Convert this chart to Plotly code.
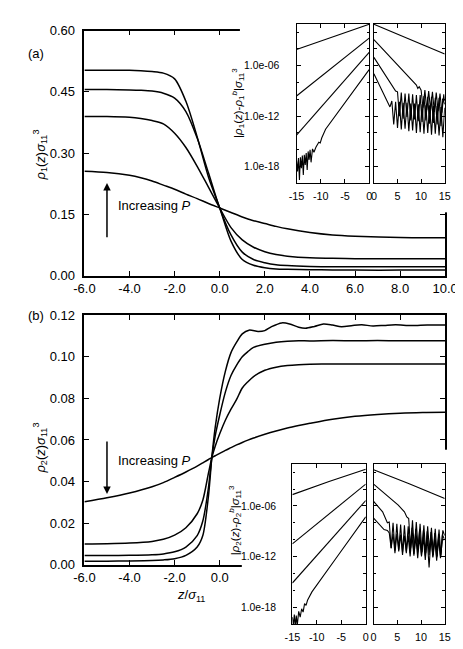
import plotly.graph_objects as go

W, H = 463, 649
FONT = "Liberation Sans, Arial, sans-serif"

# ---------------- panel (a): rho_1(z) profiles ----------------
z_a = [-6, -5, -4, -3.5, -3, -2.5, -2, -1.5, -1, -0.5, 0, 0.5, 1, 1.5, 2, 2.5, 3, 4, 5, 6, 8, 10]
rho1_p1 = [0.256, 0.253, 0.246, 0.240, 0.232, 0.222, 0.212, 0.200, 0.189, 0.177, 0.166,
           0.155, 0.144, 0.135, 0.128, 0.121, 0.115, 0.106, 0.100, 0.097, 0.094, 0.093]
rho1_p2 = [0.390, 0.390, 0.388, 0.385, 0.380, 0.372, 0.349, 0.314, 0.268, 0.217, 0.166,
           0.118, 0.088, 0.070, 0.059, 0.052, 0.048, 0.044, 0.043, 0.042, 0.042, 0.042]
rho1_p3 = [0.456, 0.456, 0.455, 0.454, 0.452, 0.447, 0.435, 0.402, 0.337, 0.252, 0.166,
           0.100, 0.058, 0.040, 0.032, 0.027, 0.025, 0.023, 0.022, 0.022, 0.022, 0.022]
rho1_p4 = [0.503, 0.503, 0.503, 0.502, 0.500, 0.496, 0.482, 0.427, 0.340, 0.242, 0.166,
           0.085, 0.040, 0.026, 0.020, 0.017, 0.016, 0.015, 0.0145, 0.014, 0.014, 0.014]

# ---------------- panel (b): rho_2(z) profiles ----------------
z_b = [-6, -5, -4, -3, -2.5, -2, -1.5, -1, -0.75, -0.5, -0.35, -0.2, 0, 0.25, 0.5,
       0.75, 1, 1.25, 1.5, 2, 2.5, 3, 3.5, 4, 5, 6, 7, 8, 9, 10]
rho2_p1 = [0.0303, 0.0322, 0.0345, 0.0375, 0.0395, 0.0420, 0.0446, 0.0474, 0.0490, 0.0506,
           0.0515, 0.0524, 0.0535, 0.0550, 0.0563, 0.0576, 0.0588, 0.0599, 0.0609, 0.0627,
           0.0643, 0.0657, 0.0669, 0.0680, 0.0700, 0.0714, 0.0723, 0.0729, 0.0732, 0.0733]
rho2_p2 = [0.0100, 0.0101, 0.0104, 0.0112, 0.0122, 0.0142, 0.0178, 0.0245, 0.0310, 0.0440,
           0.0515, 0.0570, 0.0630, 0.0695, 0.0748, 0.0795, 0.0850, 0.0880, 0.0905, 0.0935,
           0.0950, 0.0958, 0.0962, 0.0964, 0.0965, 0.0965, 0.0965, 0.0965, 0.0965, 0.0965]
rho2_p3 = [0.0044, 0.0044, 0.0045, 0.0048, 0.0052, 0.0062, 0.0085, 0.0140, 0.0210, 0.0370,
           0.0515, 0.0620, 0.0720, 0.0830, 0.0910, 0.0960, 0.1000, 0.1025, 0.1045, 0.1060,
           0.1070, 0.1075, 0.1077, 0.1076, 0.1078, 0.1077, 0.1078, 0.1077, 0.1077, 0.1077]
z_b4 = [-6, -5, -4, -3, -2.5, -2, -1.5, -1, -0.75, -0.5, -0.35, -0.2, 0, 0.25, 0.5, 0.75,
        1.0, 1.3, 1.7, 2.0, 2.3, 2.75, 3.1, 3.5, 3.8, 4.2, 4.6, 5.0, 5.4, 5.9, 6.3, 6.8,
        7.3, 7.8, 8.5, 9.2, 10]
rho2_p4 = [0.0017, 0.0017, 0.0018, 0.0020, 0.0023, 0.0029, 0.0045, 0.0085, 0.0140, 0.0330,
           0.0515, 0.0660, 0.0800, 0.0930, 0.1020, 0.1070, 0.1110, 0.1128, 0.1122, 0.1126,
           0.1145, 0.1163, 0.1158, 0.1142, 0.1137, 0.1146, 0.1158, 0.1153, 0.1145, 0.1151,
           0.1154, 0.1148, 0.1151, 0.1154, 0.1150, 0.1153, 0.1153]

# ---------------- insets: log10 |rho(z) - rho^b| ----------------
# inset (a), liquid side (z < 0)
la_x1 = [-15, 0];  la_e1 = [-4.05, -1.05]
la_x2 = [-15, 0];  la_e2 = [-9.6, -2.7]
la_x3 = [-15, 0];  la_e3 = [-14.25, -4.4]
la_x4 = [-15, -14.8, -14.6, -14.4, -14.2, -14.0, -13.8, -13.6, -13.4, -13.2, -13.0, -12.8,
         -12.6, -12.4, -12.2, -12.0, -11.7, -11.4, -11.0, -10.7, -10.4, -10.1, -9.8, -9, -6, -3, 0]
la_e4 = [-17.3, -18.6, -17.0, -19.6, -16.9, -18.2, -16.7, -19.0, -16.6, -17.8, -16.4, -18.4,
         -16.2, -17.2, -16.0, -17.5, -15.9, -16.3, -15.7, -15.3, -15.1, -15.2, -14.6, -13.55,
         -11.2, -8.8, -6.45]
# inset (a), vapour side (z > 0)
ra_x1 = [0, 15];  ra_e1 = [-1.05, -4.6]
ra_x2 = [0, 3, 6, 8, 9.0, 9.3, 9.6, 10.0, 10.4, 10.8, 11.2, 11.6, 12.0, 12.4, 12.8, 13.2,
         13.6, 14.0, 14.4, 14.8, 15.0]
ra_e2 = [-2.9, -4.7, -6.45, -7.7, -8.3, -8.7, -8.5, -8.9, -11.0, -8.9, -11.3, -9.0, -11.2,
         -9.1, -11.5, -9.2, -11.4, -9.3, -11.6, -9.4, -10.2]
ra_x3 = [0, 2, 4, 4.6, 5.0, 5.4, 5.8, 6.2, 6.6, 7.0, 7.4, 7.8, 8.2, 8.6, 9.0, 9.4, 9.8,
         10.2, 10.6, 11.0, 11.4, 11.8, 12.2, 12.6, 13.0, 13.4, 13.8, 14.2, 14.6, 15.0]
ra_e3 = [-5.0, -6.8, -8.6, -9.0, -9.1, -12.0, -9.2, -12.3, -9.3, -12.1, -9.3, -12.5, -9.4,
         -12.4, -9.5, -12.6, -9.5, -12.7, -9.6, -12.5, -9.7, -12.9, -9.7, -12.8, -9.8, -13.0,
         -9.8, -13.2, -9.9, -10.6]
ra_x4 = [0, 1.5, 3.0, 3.4, 3.8, 4.2, 4.6, 5.0, 5.4, 5.8, 6.2, 6.6, 7.0, 7.4, 7.8, 8.2, 8.6,
         9.0, 9.4, 9.8, 10.2, 10.6, 11.0, 11.4, 11.8, 12.2, 12.6, 13.0, 13.4, 13.8, 14.2,
         14.6, 15.0]
ra_e4 = [-6.95, -8.7, -10.5, -10.9, -10.2, -13.0, -10.3, -13.4, -10.3, -13.6, -10.4, -13.5,
         -10.4, -13.8, -10.5, -13.7, -10.5, -14.0, -10.6, -13.9, -10.6, -14.1, -10.7, -14.0,
         -10.7, -14.2, -10.8, -14.1, -10.8, -14.3, -10.9, -14.5, -11.0]

# inset (b), liquid side
lb_x1 = [-15, -7.5, 0];  lb_e1 = [-4.65, -3.1, -1.65]
lb_x2 = [-15, 0];  lb_e2 = [-10.5, -3.4]
lb_x3 = [-15, 0];  lb_e3 = [-15.15, -5.35]
lb_x4 = [-15, -14.8, -14.6, -14.4, -14.2, -14.0, -13.7, -13.4, -13.1, -12.8, -12.5, -12.2,
         -11.9, -11.6, -11.0, -6, 0]
lb_e4 = [-19.2, -20.2, -18.9, -20.3, -19.0, -20.2, -18.5, -19.2, -18.2, -18.6, -17.6, -17.8,
         -17.2, -16.9, -16.2, -12.15, -7.3]
# inset (b), vapour side
rb_x1 = [0, 7.5, 15];  rb_e1 = [-1.7, -3.35, -5.1]
rb_x2 = [0, 2.5, 5.2, 6.5, 7.0, 7.4, 7.8, 8.2, 8.6, 9.0, 9.4, 9.8, 10.2, 10.6, 11.0, 11.4,
         11.8, 12.2, 12.6, 13.0, 13.4, 13.8, 14.2, 14.6, 15.0]
rb_e2 = [-3.4, -4.6, -5.9, -6.7, -7.3, -7.5, -11.0, -7.7, -11.3, -7.9, -11.2, -8.1, -11.5,
         -8.3, -11.6, -8.4, -11.4, -8.6, -11.8, -8.7, -12.0, -8.8, -11.9, -8.9, -9.5]
rb_x3 = [0, 1.9, 2.9, 3.3, 3.7, 4.1, 4.5, 4.9, 5.3, 5.7, 6.1, 6.5, 6.9, 7.3, 7.7, 8.1, 8.5,
         8.9, 9.3, 9.7, 10.1, 10.5, 10.9, 11.3, 11.7, 12.1, 12.5, 12.9, 13.3, 13.7, 14.1,
         14.5, 14.9]
rb_e3 = [-5.45, -6.7, -8.0, -7.9, -11.0, -8.0, -11.3, -8.1, -11.2, -8.2, -11.5, -8.3, -11.4,
         -8.4, -11.6, -8.6, -11.7, -8.7, -11.5, -8.8, -11.8, -8.9, -11.9, -9.0, -11.8, -9.1,
         -12.0, -9.2, -12.1, -9.3, -11.9, -9.4, -9.9]
rb_x4 = [0, 1.5, 2.2, 2.9, 3.3, 3.7, 4.1, 4.5, 4.9, 5.3, 5.7, 6.1, 6.5, 6.9, 7.3, 7.7, 8.1,
         8.5, 8.9, 9.3, 9.7, 10.1, 10.5, 10.9, 11.3, 11.7, 12.1, 12.5, 12.9, 13.3, 13.7,
         14.1, 14.5, 14.9]
rb_e4 = [-7.45, -8.4, -8.8, -8.9, -9.2, -11.0, -9.3, -11.6, -9.3, -11.4, -9.4, -11.8, -9.5,
         -11.6, -9.5, -12.0, -9.6, -11.9, -9.6, -12.2, -9.7, -12.0, -9.7, -12.4, -9.8, -13.3,
         -9.8, -12.1, -9.9, -12.5, -9.9, -12.2, -10.0, -10.0]

# tick labels
main_x_ticks = [-6, -4, -2, 0, 2, 4, 6, 8, 10]
main_x_text = ["-6.0", "-4.0", "-2.0", "0.0", "2.0", "4.0", "6.0", "8.0", "10.0"]
a_y_ticks = [0, 0.15, 0.30, 0.45, 0.60]
a_y_text = ["0.00", "0.15", "0.30", "0.45", "0.60"]
b_y_ticks = [0, 0.02, 0.04, 0.06, 0.08, 0.10, 0.12]
b_y_text = ["0.00", "0.02", "0.04", "0.06", "0.08", "0.10", "0.12"]
ins_y_ticks = [1e-18, 1e-12, 1e-6]
ins_y_text = ["1.0e-18", "1.0e-12", "1.0e-06"]
ins_y_minor = [1e-16, 1e-14, 1e-10, 1e-8, 1e-4, 1e-2]
insL_x_ticks = [-15, -10, -5, 0]
insL_x_text = ["-15", "-10", "-5", "0"]
insR_x_ticks = [0, 5, 10, 15]
insR_x_text = ["0", "5", "10", "15"]


def dx(a, b):
    return [a / W, b / W]


def dy(top, bottom):
    return [1 - bottom / H, 1 - top / H]


fig = go.Figure()

main_line = dict(color="black", width=1.5, shape="spline", smoothing=0.8)
ins_line = dict(color="black", width=1.1)


def add_main(x, y, sub):
    fig.add_trace(go.Scatter(x=x, y=y, mode="lines", line=main_line,
                             xaxis="x" + sub, yaxis="y" + sub, showlegend=False,
                             hoverinfo="skip"))


def add_ins(x, e, sub):
    fig.add_trace(go.Scatter(x=x, y=[10 ** v for v in e], mode="lines", line=ins_line,
                             xaxis="x" + sub, yaxis="y" + sub, showlegend=False,
                             hoverinfo="skip"))


for ys in (rho1_p1, rho1_p2, rho1_p3, rho1_p4):
    add_main(z_a, ys, "")
# blank covering subplots (white background hides the main frame behind the insets)
fig.add_trace(go.Scatter(x=[], y=[], xaxis="x2", yaxis="y2", showlegend=False))
for xs, es in ((la_x1, la_e1), (la_x2, la_e2), (la_x3, la_e3), (la_x4, la_e4)):
    add_ins(xs, es, "3")
for xs, es in ((ra_x1, ra_e1), (ra_x2, ra_e2), (ra_x3, ra_e3), (ra_x4, ra_e4)):
    add_ins(xs, es, "4")
for ys in (rho2_p1, rho2_p2, rho2_p3):
    add_main(z_b, ys, "5")
add_main(z_b4, rho2_p4, "5")
fig.add_trace(go.Scatter(x=[], y=[], xaxis="x6", yaxis="y6", showlegend=False))
for xs, es in ((lb_x1, lb_e1), (lb_x2, lb_e2), (lb_x3, lb_e3), (lb_x4, lb_e4)):
    add_ins(xs, es, "7")
for xs, es in ((rb_x1, rb_e1), (rb_x2, rb_e2), (rb_x3, rb_e3), (rb_x4, rb_e4)):
    add_ins(xs, es, "8")

main_ax = dict(showline=True, linecolor="black", linewidth=1.5, mirror="ticks",
               ticks="inside", ticklen=5, tickwidth=1.2, tickcolor="black",
               showgrid=False, zeroline=False,
               tickfont=dict(family=FONT, size=13, color="black"))
ins_ax = dict(showline=True, linecolor="black", linewidth=1.3, mirror="ticks",
              ticks="inside", ticklen=4, tickwidth=1, tickcolor="black",
              showgrid=False, zeroline=False, ticklabelstandoff=3,
              tickfont=dict(family=FONT, size=10.8, color="black"))
blank_ax = dict(visible=False, showgrid=False, zeroline=False, range=[0, 1], fixedrange=True)


def ins_y(show, anchor, dom, standoff):
    return dict(ins_ax, type="log", range=[-20, -1], tickvals=ins_y_ticks,
                ticktext=ins_y_text, showticklabels=show, anchor=anchor, domain=dom,
                ticklabelstandoff=standoff,
                minor=dict(tickvals=ins_y_minor, ticks="inside", ticklen=2.5,
                           tickcolor="black", tickwidth=1),
                tickfont=dict(family=FONT, size=10.4, color="black"))


a_dom_y = dy(16, 267)
b_dom_y = dy(307.3, 562.7)
ia_dom_y = dy(9, 172.3)
ib_dom_y = dy(459.5, 623.3)

fig.update_layout(
    width=W, height=H, margin=dict(l=0, r=0, t=0, b=0),
    paper_bgcolor="white", plot_bgcolor="white",
    font=dict(family=FONT, size=13, color="black"),
    xaxis=dict(main_ax, domain=dx(69, 449.5), range=[-6, 10], tickvals=main_x_ticks,
               ticktext=main_x_text, anchor="y"),
    yaxis=dict(main_ax, domain=a_dom_y, range=[0, 0.6], tickvals=a_y_ticks,
               ticktext=a_y_text, anchor="x", ticklabelstandoff=5),
    xaxis2=dict(blank_ax, domain=dx(233, 463), anchor="y2"),
    yaxis2=dict(blank_ax, domain=dy(0, 202), anchor="x2"),
    xaxis3=dict(ins_ax, domain=dx(292.7, 369.3), range=[-15, 0], tickvals=insL_x_ticks,
                ticktext=insL_x_text, anchor="y3"),
    yaxis3=ins_y(True, "x3", ia_dom_y, 14),
    xaxis4=dict(ins_ax, domain=dx(374.3, 449), range=[0, 15], tickvals=insR_x_ticks,
                ticktext=insR_x_text, anchor="y4"),
    yaxis4=ins_y(False, "x4", ia_dom_y, 14),
    xaxis5=dict(main_ax, domain=dx(69, 449.5), range=[-6, 10], tickvals=main_x_ticks,
                ticktext=main_x_text, anchor="y5"),
    yaxis5=dict(main_ax, domain=b_dom_y, range=[0, 0.12], tickvals=b_y_ticks,
                ticktext=b_y_text, anchor="x5", ticklabelstandoff=5),
    xaxis6=dict(blank_ax, domain=dx(235, 463), anchor="y6"),
    yaxis6=dict(blank_ax, domain=dy(445, 649), anchor="x6"),
    xaxis7=dict(ins_ax, domain=dx(288.3, 365.7), range=[-15, 0], tickvals=insL_x_ticks,
                ticktext=insL_x_text, anchor="y7"),
    yaxis7=ins_y(True, "x7", ib_dom_y, 13),
    xaxis8=dict(ins_ax, domain=dx(374, 449), range=[0, 15], tickvals=insR_x_ticks,
                ticktext=insR_x_text, anchor="y8"),
    yaxis8=ins_y(False, "x8", ib_dom_y, 13),
)

rho1_lab = "<i>ρ</i><sub>1</sub>(<i>z</i>)<i>σ</i><sub>11</sub><sup>3</sup>"
rho2_lab = "<i>ρ</i><sub>2</sub>(<i>z</i>)<i>σ</i><sub>11</sub><sup>3</sup>"
ins1_lab = ("|<i>ρ</i><sub>1</sub>(<i>z</i>)-<i>ρ</i><sub>1</sub><sup><i>b</i></sup>|"
            "<i>σ</i><sub>11</sub><sup>3</sup>")
ins2_lab = ("|<i>ρ</i><sub>2</sub>(<i>z</i>)-<i>ρ</i><sub>2</sub><sup><i>b</i></sup>|"
            "<i>σ</i><sub>11</sub><sup>3</sup>")


def ann_px(text, px, py, size=13, angle=0, xanchor="center"):
    fig.add_annotation(text=text, x=px / W, y=1 - py / H, xref="paper", yref="paper",
                       showarrow=False, textangle=angle, xanchor=xanchor, yanchor="middle",
                       font=dict(family=FONT, size=size, color="black"))


ann_px("(a)", 18, 39)
ann_px("(b)", 18, 307.5)
ann_px(rho1_lab, 22, 143, angle=-90)
ann_px(rho2_lab, 22, 443, angle=-90)
ann_px("<i>z</i>/<i>σ</i><sub>11</sub>", 181, 594)
ann_px(ins1_lab, 231, 90, size=11.5, angle=-90)
ann_px(ins2_lab, 228, 517, size=11.5, angle=-90)

# "Increasing P" arrows and text (data coordinates)
fig.add_annotation(x=-5, y=0.227, ax=-5, ay=0.091, xref="x", yref="y", axref="x", ayref="y",
                   text="", showarrow=True, arrowhead=2, arrowsize=1, arrowwidth=1.5,
                   arrowcolor="black")
fig.add_annotation(x=-4.62, y=0.172, xref="x", yref="y", text="Increasing <i>P</i>",
                   showarrow=False, xanchor="left",
                   font=dict(family=FONT, size=13, color="black"))
fig.add_annotation(x=-5, y=0.034, ax=-5, ay=0.060, xref="x5", yref="y5", axref="x5",
                   ayref="y5", text="", showarrow=True, arrowhead=2, arrowsize=1,
                   arrowwidth=1.5, arrowcolor="black")
fig.add_annotation(x=-4.62, y=0.0502, xref="x5", yref="y5", text="Increasing <i>P</i>",
                   showarrow=False, xanchor="left",
                   font=dict(family=FONT, size=13, color="black"))

fig.write_html("out.html")
